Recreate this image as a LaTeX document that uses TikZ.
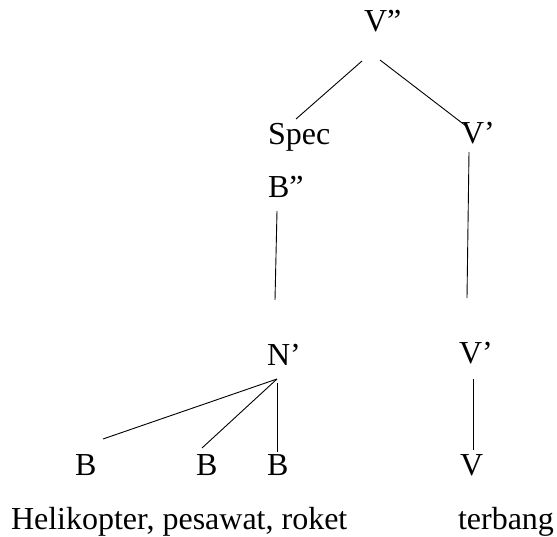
\documentclass[tikz,border=0pt]{standalone}
\usepackage{fontspec}
\setmainfont{Liberation Serif}
\tikzset{
  lbl/.style={anchor=base west, inner sep=0pt, outer sep=0pt, font=\fontsize{32}{37}\selectfont},
  edge/.style={line width=0.9pt, black}
}
\begin{document}
\begin{tikzpicture}[x=1pt, y=-1pt]
\useasboundingbox (0,0) rectangle (557,537);
\node[lbl] (vpp)  at (364,32)  {V”};
\node[lbl] (spec) at (268,145) {Spec};
\node[lbl] (bpp)  at (268,198) {B”};
\node[lbl] (vt)   at (461,144) {V’};
\node[lbl] (np)   at (267,365) {N’};
\node[lbl] (vl)   at (459,363) {V’};
\node[lbl] (b1)   at (75,475)  {B};
\node[lbl] (b2)   at (196,475) {B};
\node[lbl] (b3)   at (267,475) {B};
\node[lbl] (v)    at (460,475) {V};
\node[lbl] (heli) at (11,529)  {Helikopter, pesawat, roket};
\node[lbl] (terb) at (458,529) {terbang};

\draw[edge] ([shift={(-2,29)}]vpp.base west) -- ([shift={(28,-26)}]spec.base west);
\draw[edge] ([shift={(16,28)}]vpp.base west) -- ([shift={(5,-18)}]vt.base west);
\draw[edge] ([shift={(8,8)}]vt.base west) -- ([shift={(8,-65)}]vl.base west);
\draw[edge] ([shift={(9,13)}]bpp.base west) -- ([shift={(8,-65)}]np.base west);
\draw[edge] ([shift={(10,14)}]np.base west) -- ([shift={(28,-36)}]b1.base west);
\draw[edge] ([shift={(10,14)}]np.base west) -- ([shift={(6,-27)}]b2.base west);
\draw[edge] ([shift={(10,18)}]np.base west) -- ([shift={(10,-23)}]b3.base west);
\draw[edge] ([shift={(14,16)}]vl.base west) -- ([shift={(13,-25)}]v.base west);
\end{tikzpicture}
\end{document}
